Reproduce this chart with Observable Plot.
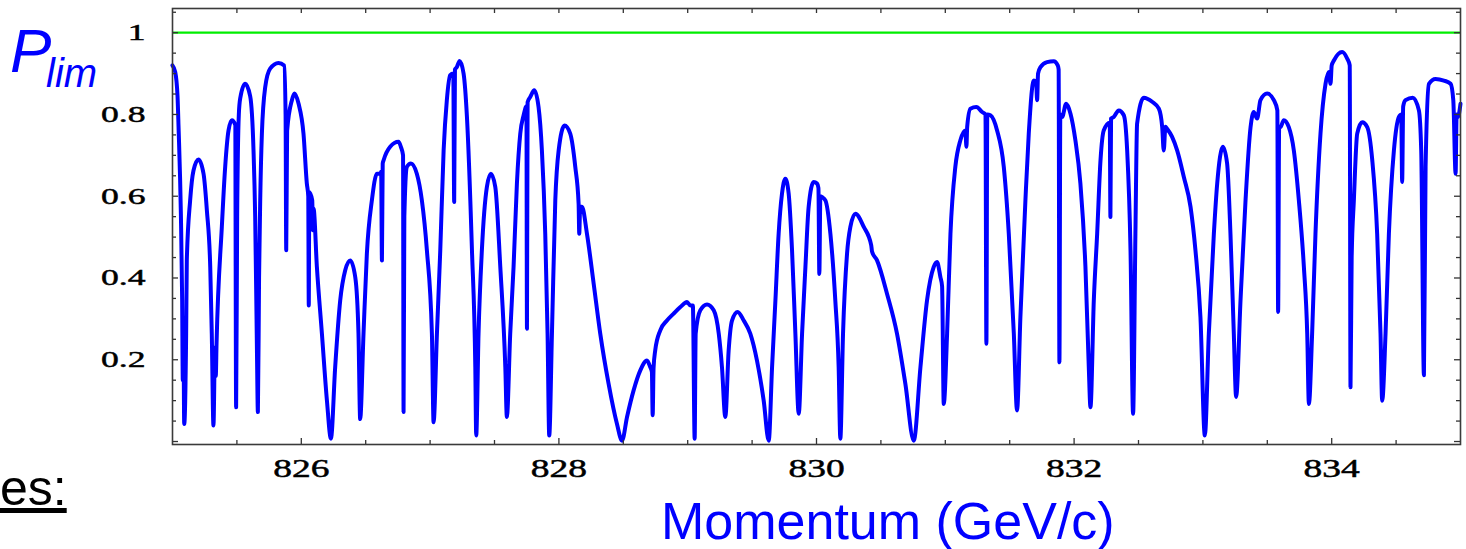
<!DOCTYPE html>
<html><head><meta charset="utf-8">
<script src="https://cdn.jsdelivr.net/npm/d3@7"></script>
<script src="https://cdn.jsdelivr.net/npm/@observablehq/plot@0.6"></script>
<style>
html,body{margin:0;padding:0;background:#fff;}
#wrap{position:relative;width:1466px;height:549px;overflow:hidden;}
.ov{position:absolute;white-space:nowrap;line-height:1;font-family:"Liberation Sans",Arial,sans-serif;}
</style></head><body>
<div id="wrap">
 <div id="chart"></div>
 <div class="ov" style="left:10px;top:19.5px;font-size:62px;font-style:italic;color:#0000ff">P</div>
 <div class="ov" style="left:46px;top:53px;font-size:40px;font-style:italic;color:#0000ff">lim</div>
 <div class="ov" style="left:661px;top:495px;font-size:52px;color:#0000ff">Momentum (GeV/c)</div>
 <div class="ov" style="left:0px;top:463px;font-size:50px;color:#000;text-decoration:underline">es:</div>
</div>
<script>
const momentum = [
825.000,825.021,825.039,825.047,825.065,825.075,825.080,825.084,825.091,825.106,
825.111,825.137,825.163,825.202,825.241,825.267,825.293,825.305,825.318,825.330,
825.336,825.342,825.383,825.409,825.435,825.461,825.487,825.494,825.502,825.515,
825.526,825.564,825.603,825.629,825.642,825.655,825.663,825.672,825.681,825.694,
825.720,825.758,825.823,825.867,825.878,825.883,825.890,825.927,825.947,825.979,
826.017,826.043,826.054,826.058,826.062,826.085,826.090,826.095,826.121,826.160,
826.199,826.230,826.263,826.302,826.341,826.380,826.419,826.444,826.457,826.483,
826.509,826.548,826.587,826.613,826.620,826.626,826.632,826.639,826.690,826.755,
826.773,826.790,826.794,826.800,826.820,826.851,826.897,826.936,826.975,827.014,
827.027,827.053,827.079,827.105,827.130,827.156,827.180,827.187,827.193,827.208,
827.229,827.260,827.286,827.325,827.351,827.358,827.376,827.402,827.441,827.472,
827.506,827.545,827.584,827.596,827.622,827.648,827.674,827.700,827.726,827.748,
827.752,827.757,827.778,827.809,827.842,827.868,827.894,827.912,827.925,827.946,
827.972,827.998,828.044,828.088,828.127,828.153,828.158,828.165,828.179,828.218,
828.270,828.321,828.386,828.451,828.490,828.529,828.580,828.632,828.684,828.709,
828.722,828.728,828.735,828.748,828.787,828.839,828.891,828.943,828.995,829.020,
829.040,829.054,829.062,829.098,829.150,829.202,829.241,829.266,829.292,829.318,
829.344,829.388,829.435,829.486,829.538,829.590,829.629,829.655,829.681,829.706,
829.732,829.758,829.784,829.810,829.836,829.862,829.888,829.914,829.939,829.978,
830.004,830.015,830.022,830.030,830.043,830.069,830.108,830.146,830.172,830.185,
830.206,830.237,830.263,830.302,830.367,830.425,830.431,830.470,830.548,830.625,
830.690,830.755,830.807,830.858,830.910,830.936,830.962,830.975,830.988,831.014,
831.040,831.078,831.117,831.156,831.164,831.170,831.195,831.241,831.286,831.312,
831.319,831.326,831.350,831.402,831.454,831.493,831.532,831.557,831.583,831.622,
831.648,831.687,831.705,831.713,831.720,831.739,831.790,831.842,831.873,831.880,
831.886,831.893,831.907,831.938,831.972,832.010,832.049,832.088,832.114,832.127,
832.153,832.179,832.205,832.230,832.277,832.282,832.287,832.308,832.347,832.386,
832.412,832.438,832.458,832.476,832.489,832.541,832.606,832.658,832.684,832.696,
832.709,832.722,832.761,832.800,832.852,832.904,832.942,832.981,833.015,833.046,
833.085,833.111,833.155,833.188,833.214,833.240,833.258,833.292,833.331,833.370,
833.395,833.421,833.447,833.499,833.551,833.578,833.584,833.592,833.602,833.628,
833.667,833.706,833.745,833.784,833.810,833.823,833.848,833.874,833.913,833.952,
833.978,833.991,834.000,834.017,834.081,834.120,834.140,834.146,834.155,834.172,
834.198,834.237,834.276,834.315,834.353,834.379,834.392,834.418,834.444,834.483,
834.522,834.540,834.547,834.555,834.573,834.630,834.677,834.695,834.716,834.729,
834.755,834.806,834.871,834.923,834.944,834.962,834.970,834.980,835.000
];
const plim = [
0.920,0.904,0.845,0.769,0.557,0.345,0.150,0.300,0.043,0.264,
0.443,0.590,0.663,0.690,0.655,0.565,0.427,0.264,0.039,0.230,
0.160,0.240,0.525,0.672,0.761,0.786,0.775,0.084,0.550,0.800,
0.840,0.875,0.845,0.712,0.549,0.240,0.072,0.400,0.590,0.753,
0.867,0.912,0.926,0.920,0.800,0.468,0.760,0.835,0.851,0.826,
0.753,0.631,0.600,0.333,0.610,0.590,0.517,0.570,0.427,0.264,
0.100,0.007,0.182,0.345,0.419,0.443,0.402,0.264,0.055,0.264,
0.459,0.590,0.655,0.655,0.660,0.443,0.680,0.688,0.721,0.733,
0.721,0.700,0.072,0.550,0.672,0.680,0.655,0.590,0.468,0.264,
0.047,0.264,0.468,0.712,0.835,0.896,0.900,0.586,0.910,0.916,
0.931,0.900,0.794,0.468,0.182,0.015,0.264,0.468,0.623,0.655,
0.623,0.427,0.182,0.060,0.264,0.427,0.631,0.753,0.798,0.820,
0.276,0.830,0.843,0.859,0.818,0.712,0.508,0.264,0.015,0.264,
0.590,0.712,0.773,0.753,0.672,0.582,0.508,0.574,0.574,0.508,
0.386,0.264,0.141,0.043,0.002,0.060,0.125,0.174,0.198,0.182,
0.170,0.064,0.180,0.223,0.272,0.296,0.313,0.329,0.341,0.333,
0.333,0.007,0.264,0.321,0.335,0.321,0.264,0.182,0.060,0.223,
0.296,0.317,0.296,0.264,0.198,0.100,0.002,0.182,0.345,0.508,
0.606,0.643,0.606,0.468,0.264,0.068,0.264,0.427,0.574,0.635,
0.631,0.620,0.410,0.600,0.598,0.590,0.508,0.345,0.182,0.007,
0.264,0.459,0.525,0.557,0.525,0.480,0.465,0.443,0.361,0.264,
0.141,0.002,0.182,0.345,0.427,0.439,0.402,0.380,0.092,0.264,
0.508,0.672,0.737,0.761,0.721,0.770,0.814,0.818,0.806,0.800,
0.239,0.800,0.798,0.761,0.672,0.508,0.264,0.076,0.304,0.590,
0.753,0.883,0.880,0.835,0.900,0.916,0.928,0.930,0.920,0.910,
0.194,0.800,0.794,0.826,0.802,0.737,0.631,0.427,0.182,0.084,
0.345,0.508,0.688,0.761,0.780,0.549,0.790,0.794,0.810,0.798,
0.712,0.468,0.068,0.508,0.777,0.841,0.831,0.814,0.769,0.712,
0.770,0.765,0.745,0.712,0.647,0.574,0.468,0.304,0.015,0.264,
0.508,0.631,0.721,0.680,0.508,0.264,0.109,0.345,0.590,0.769,
0.806,0.790,0.835,0.851,0.835,0.810,0.317,0.770,0.769,0.786,
0.769,0.712,0.590,0.427,0.264,0.092,0.264,0.508,0.753,0.875,
0.904,0.875,0.920,0.932,0.953,0.937,0.920,0.133,0.450,0.590,
0.753,0.781,0.769,0.688,0.508,0.264,0.100,0.264,0.508,0.712,
0.794,0.800,0.635,0.820,0.835,0.841,0.810,0.712,0.162,0.672,
0.875,0.887,0.883,0.875,0.835,0.655,0.800,0.794,0.826
];
const limitLevel = [1];
const xMajorTicks = [826, 828, 830, 832, 834];
const xTickLabels = ["826", "828", "830", "832", "834"];
const xMinorTicks = [825.5, 826.5, 827, 827.5, 828.5, 829, 829.5, 830.5, 831, 831.5, 832.5, 833, 833.5, 834.5];
const xTopTicks = [825.5, 826, 826.5, 827, 827.5, 828, 828.5, 829, 829.5, 830, 830.5, 831, 831.5, 832, 832.5, 833, 833.5, 834, 834.5];
const yTickValues = [0.2, 0.4, 0.6, 0.8, 1];
const yTickLabels = ["0.2", "0.4", "0.6", "0.8", "1"];
const yMajorTicks = [0, 0.2, 0.4, 0.6, 0.8, 1];
const yMinorTicks = [0.05, 0.1, 0.15, 0.25, 0.3, 0.35, 0.45, 0.5, 0.55, 0.65, 0.7, 0.75, 0.85, 0.9, 0.95, 1.05];

const data = momentum.map((m, i) => ({momentum: m, plim: plim[i]}));

const W = 1466, H = 549, mL = 172, mR = 6, mT = 8, mB = 105;
const iw = W - mL - mR, ih = H - mT - mB;
const tickColor = "#333";

const chart = Plot.plot({
  width: W, height: H,
  marginLeft: mL, marginRight: mR, marginTop: mT, marginBottom: mB,
  x: {domain: [825, 835]},
  y: {domain: [-0.0073, 1.0592]},
  style: {background: "#fff"},
  marks: [
    Plot.ruleY(limitLevel, {y: d => d, stroke: "#00ee00", strokeWidth: 2.2}),
    Plot.line(data, {x: "momentum", y: "plim", stroke: "#0000ff", strokeWidth: 4, curve: "monotone-x"}),
    Plot.tickX(xMajorTicks, {x: d => d, insetTop: ih - 6, stroke: tickColor, strokeWidth: 1.3}),
    Plot.tickX(xMinorTicks, {x: d => d, insetTop: ih - 4, stroke: tickColor, strokeWidth: 1.3}),
    Plot.tickX(xTopTicks, {x: d => d, insetBottom: ih - 5, stroke: tickColor, strokeWidth: 1.3}),
    Plot.tickY(yMajorTicks, {y: d => d, insetRight: iw - 6, stroke: tickColor, strokeWidth: 1.3}),
    Plot.tickY(yMinorTicks, {y: d => d, insetRight: iw - 4, stroke: tickColor, strokeWidth: 1.3}),
    Plot.tickY(yMajorTicks, {y: d => d, insetLeft: iw - 6, stroke: tickColor, strokeWidth: 1.3}),
    Plot.tickY(yMinorTicks, {y: d => d, insetLeft: iw - 4, stroke: tickColor, strokeWidth: 1.3}),
    Plot.axisX(xMajorTicks, {tickSize: 0, tickPadding: 15, fontSize: 25, fontFamily: "Liberation Serif",
      tickFormat: d => xTickLabels[xMajorTicks.indexOf(d)], fill: "#000", label: null}),
    Plot.axisY(yTickValues, {tickSize: 0, tickPadding: 27, fontSize: 23, fontFamily: "Liberation Serif",
      tickFormat: d => yTickLabels[yTickValues.indexOf(d)], fill: "#000", label: null}),
    Plot.frame({stroke: "#3a3a3a", strokeWidth: 1.6})
  ]
});
document.getElementById("chart").appendChild(chart);

// the source image is horizontally stretched: widen tick label glyphs and give them a slightly heavier look
function widen(sel, sx) {
  chart.querySelectorAll(sel).forEach(t => {
    t.setAttribute("transform", (t.getAttribute("transform") || "") + ` scale(${sx},1)`);
    t.style.stroke = "#000";
    t.style.strokeWidth = "0.45px";
  });
}
widen('g[aria-label="x-axis tick label"] text', 1.5);
widen('g[aria-label="y-axis tick label"] text', 1.55);
</script>
</body></html>
